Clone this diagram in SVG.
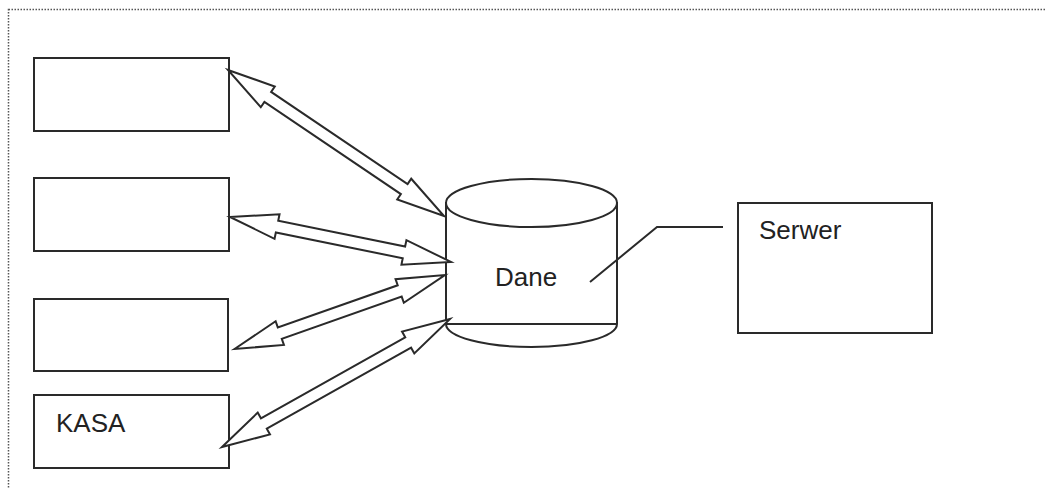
<svg xmlns="http://www.w3.org/2000/svg" width="1046" height="488" viewBox="0 0 1046 488">
<style>
.box{fill:#fff;stroke:#2a2a2a;stroke-width:2}
.arr{fill:#fff;stroke:#2a2a2a;stroke-width:2;stroke-linejoin:miter}
.lbl{font-family:"Liberation Sans",Arial,sans-serif;font-size:26px;fill:#222}
.ln{fill:none;stroke:#2a2a2a;stroke-width:2}
</style>
<rect width="1046" height="488" fill="#fff"/>
<rect x="8.5" y="9.5" width="1045" height="490" fill="none" stroke="#555" stroke-width="1.5" stroke-dasharray="1.5 1.5"/>
<g id="box1"><rect class="box" x="34" y="58" width="195" height="73"/></g>
<g id="box2"><rect class="box" x="34" y="178" width="195" height="73"/></g>
<g id="box3"><rect class="box" x="34" y="299" width="194" height="72"/></g>
<g id="kasa"><rect class="box" x="34" y="395" width="195" height="73"/><text class="lbl" x="56" y="432">KASA</text></g>
<g id="dane">
<path class="box" d="M446,203 L446,324 A85.5,23 0 0 0 617,324 L617,203 Z"/>
<ellipse class="box" cx="531.5" cy="203" rx="85.5" ry="24"/>
<line class="ln" x1="446" y1="324" x2="617" y2="324"/>
<text class="lbl" x="495" y="286">Dane</text>
</g>
<g id="serwer"><rect class="box" x="738" y="203" width="194" height="130"/><text class="lbl" x="759" y="239">Serwer</text></g>
<g id="connectors">
<polygon class="arr" transform="translate(228,70) rotate(34.05)" points="0,0 48,-12.5 48,-6 212.7,-6 212.7,-12.5 260.7,0 212.7,12.5 212.7,6 48,6 48,12.5"/>
<polygon class="arr" transform="translate(230,217) rotate(11.5)" points="0,0 48,-12.5 48,-6 177.5,-6 177.5,-12.5 225.5,0 177.5,12.5 177.5,6 48,6 48,12.5"/>
<polygon class="arr" transform="translate(234.5,349) rotate(-19.37)" points="0,0 48,-12.5 48,-6 175.1,-6 175.1,-12.5 223.1,0 175.1,12.5 175.1,6 48,6 48,12.5"/>
<polygon class="arr" transform="translate(222,447) rotate(-29.31)" points="0,0 48,-12.5 48,-6 213.5,-6 213.5,-12.5 261.5,0 213.5,12.5 213.5,6 48,6 48,12.5"/>
<polyline class="ln" points="590,282 657,227 723,227"/>
</g>
</svg>
